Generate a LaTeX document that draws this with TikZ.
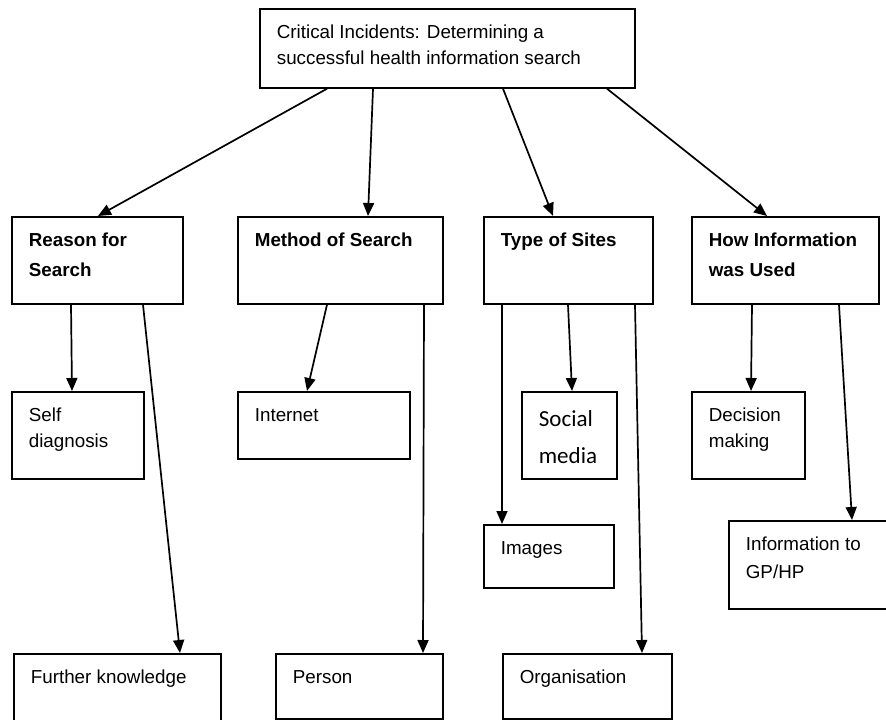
\documentclass[tikz,border=0pt]{standalone}
\usepackage{fontspec}
\setmainfont{Liberation Sans}
\newfontfamily\calibrifont{Carlito}
\usepackage{tikz}
\usetikzlibrary{arrows.meta}

% top-aligned text inside a fixed-size box
\newcommand{\celltext}[4][30pt]{\parbox[c][#3][t]{#2}{\raggedright\rule{0pt}{#1}#4}}

\begin{document}
\begin{tikzpicture}[x=1pt, y=-1pt,
    cell/.style={draw, line width=1.7pt, anchor=north west, inner xsep=17pt, inner ysep=0pt,
        font=\fontsize{18.8}{26}\selectfont},
    head/.style={cell, font=\fontsize{18.8}{30}\selectfont\bfseries},
    arr/.style={-{Triangle[length=13pt, width=11pt]}, line width=1.7pt}]

    \useasboundingbox (0,0) rectangle (886,720);
    \fill[white] (0,0) rectangle (886,720);
    \clip (0,0) rectangle (886,720);

    % Top box
    \node[cell] (top) at (259,8) {\celltext{341pt}{79pt}{Critical Incidents: Determining a\\successful health information search}};

    % Categories
    \node[head] (reason) at (11,216) {\celltext{137pt}{87pt}{Reason for\\Search}};
    \node[head] (method) at (237,216) {\celltext{171pt}{87pt}{Method of Search}};
    \node[head] (sites) at (483,216) {\celltext{135pt}{87pt}{Type of Sites}};
    \node[head] (used) at (691,216) {\celltext{153pt}{87pt}{How Information\\was Used}};

    % Sub-categories
    \node[cell] (selfdiag) at (11,391) {\celltext{98pt}{87pt}{Self\\diagnosis}};
    \node[cell] (internet) at (237,391) {\celltext{138pt}{67pt}{Internet}};
    \node[cell, font=\calibrifont\fontsize{23}{37}\selectfont] (social) at (521,391) {\celltext[35pt]{61pt}{87pt}{Social\\media}};
    \node[cell] (decision) at (691,391) {\celltext{79pt}{87pt}{Decision\\making}};
    \node[cell] (images) at (483,524) {\celltext{96pt}{63pt}{Images}};
    \node[cell, font=\fontsize{18.8}{28}\selectfont] (infogp) at (728,520) {\celltext{141pt}{88pt}{Information to\\GP/HP}};
    \node[cell] (further) at (13,653) {\celltext{173pt}{80pt}{Further knowledge}};
    \node[cell] (person) at (275,653) {\celltext{133pt}{65pt}{Person}};
    \node[cell] (organisation) at (502,653) {\celltext{135pt}{65pt}{Organisation}};

    % Top to categories
    \draw[arr] ([xshift=68pt]top.south west) -- ([xshift=87pt]reason.north west);
    \draw[arr] ([xshift=114pt]top.south west) -- ([xshift=131pt]method.north west);
    \draw[arr] ([xshift=244pt]top.south west) -- ([xshift=70pt]sites.north west);
    \draw[arr] ([xshift=348pt]top.south west) -- ([xshift=76pt]used.north west);

    % Categories to sub-categories
    \draw[arr] ([xshift=60pt]reason.south west) -- ([xshift=61pt]selfdiag.north west);
    \draw[arr] ([xshift=132pt]reason.south west) -- ([xshift=167pt]further.north west);
    \draw[arr] ([xshift=90pt]method.south west) -- ([xshift=70pt]internet.north west);
    \draw[arr] ([xshift=187pt]method.south west) -- ([xshift=148pt]person.north west);
    \draw[arr] ([xshift=19pt]sites.south west) -- ([xshift=19pt]images.north west);
    \draw[arr] ([xshift=85pt]sites.south west) -- ([xshift=51pt]social.north west);
    \draw[arr] ([xshift=152pt]sites.south west) -- ([xshift=140pt]organisation.north west);
    \draw[arr] ([xshift=61pt]used.south west) -- ([xshift=60pt]decision.north west);
    \draw[arr] ([xshift=148pt]used.south west) -- ([xshift=124pt]infogp.north west);

\end{tikzpicture}
\end{document}
